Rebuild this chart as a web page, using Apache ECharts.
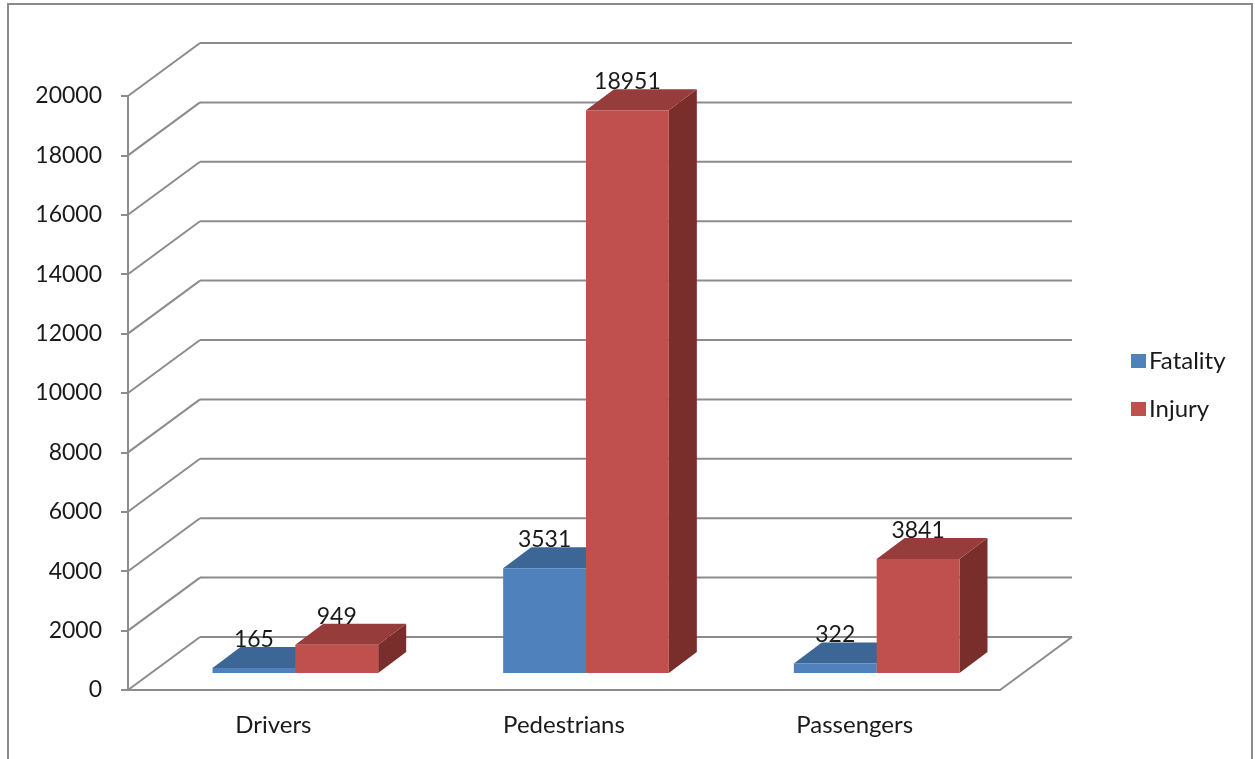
<!DOCTYPE html>
<html>
<head>
<meta charset="utf-8">
<script src="https://cdn.jsdelivr.net/npm/echarts@6/dist/echarts.min.js"></script>
<style>html,body{margin:0;padding:0;background:#fff}#c{width:1255px;height:759px}</style>
</head>
<body>
<div id="c"></div>
<script>
const categories = ['Drivers', 'Pedestrians', 'Passengers'];
const fatality = [165, 3531, 322];
const injury = [949, 18951, 3841];
const yTicks = [0, 2000, 4000, 6000, 8000, 10000, 12000, 14000, 16000, 18000, 20000];

const FONT = 'Lato';
const TXT = '#1a1a1a';
const GRID = '#8c8c8c';
// depth offsets (pixels)
const WX = 72, WY = -53;   // back wall
const PX = 22, PY = -17;   // bar front plane
const BX = 28, BY = -21;   // bar depth

const chart = echarts.init(document.getElementById('c'));

function wallRender(params, api) {
  const v = api.value(1);
  const cs = params.coordSys;
  const x0 = cs.x, x1 = cs.x + cs.width;
  const y = api.coord([0, v])[1];
  const style = { stroke: GRID, lineWidth: 2 };
  const ch = [
    { type: 'line', shape: { x1: x0, y1: y, x2: x0 + WX, y2: y + WY }, style },
    { type: 'line', shape: { x1: x0 + WX, y1: y + WY, x2: x1 + WX, y2: y + WY }, style }
  ];
  if (v === 0) {
    ch.push({ type: 'line', shape: { x1: x1, y1: y, x2: x1 + WX, y2: y + WY }, style });
  }
  return { type: 'group', children: ch };
}

function barRender(sideIdx, cFront, cTop, cSide) {
  return function (params, api) {
    const idx = api.value(0), val = api.value(1);
    const c = api.coord([idx, val]);
    const b = api.coord([idx, 0]);
    const band = api.size([1, 0])[0];
    const w = band * 0.285;
    const xl = c[0] + (sideIdx === 0 ? -w : 0) + PX;
    const xr = xl + w;
    const yt = c[1] + PY;
    const yb = b[1] + PY;
    return {
      type: 'group',
      children: [
        { type: 'polygon', shape: { points: [[xr, yt], [xr + BX, yt + BY], [xr + BX, yb + BY], [xr, yb]] }, style: { fill: cSide } },
        { type: 'polygon', shape: { points: [[xl, yt], [xr, yt], [xr + BX, yt + BY], [xl + BX, yt + BY]] }, style: { fill: cTop } },
        { type: 'rect', shape: { x: xl, y: yt, width: w, height: yb - yt }, style: { fill: cFront } },
        { type: 'text', z2: 100, style: { text: String(val), x: (xl + xr) / 2, y: yt + BY + 4, align: 'center', verticalAlign: 'bottom', fill: TXT, font: '23px ' + FONT } }
      ]
    };
  };
}

chart.setOption({
  animation: false,
  graphic: [{ type: 'rect', shape: { x: 8, y: 4, width: 1244, height: 770 }, style: { fill: 'none', stroke: '#8a8a8a', lineWidth: 2 }, z: 100 }],
  grid: { left: 128, top: 96, right: 255, bottom: 69 },
  legend: {
    data: ['Fatality', 'Injury'],
    orient: 'vertical', left: 1126, top: 344,
    itemWidth: 15, itemHeight: 14, itemGap: 24, icon: 'rect',
    textStyle: { fontFamily: FONT, fontSize: 24, color: TXT, padding: [0, 0, 0, -2] }
  },
  xAxis: {
    type: 'category', data: categories,
    axisLine: { lineStyle: { color: GRID, width: 2 } },
    axisTick: { length: 7, lineStyle: { color: GRID, width: 2 } },
    axisLabel: { fontFamily: FONT, fontSize: 24, color: TXT, margin: 23 },
    splitLine: { show: false }
  },
  yAxis: {
    type: 'value', min: 0, max: 20000, interval: 2000,
    axisLine: { show: true, lineStyle: { color: GRID, width: 2 } },
    axisTick: { show: true, length: 7, lineStyle: { color: GRID, width: 2 } },
    axisLabel: { fontFamily: FONT, fontSize: 23, color: TXT, margin: 26, formatter: v => String(v) },
    splitLine: { show: false }
  },
  series: [
    { type: 'custom', name: 'walls', renderItem: wallRender, data: yTicks.map(v => [0, v]), silent: true, z: 1 },
    { type: 'custom', name: 'Fatality', itemStyle: { color: '#4F81BD' }, renderItem: barRender(0, '#4F81BD', '#3C6696', '#2F5177'), data: fatality.map((v, i) => [i, v]), z: 2 },
    { type: 'custom', name: 'Injury', itemStyle: { color: '#C0504D' }, renderItem: barRender(1, '#C0504D', '#963C3A', '#7A2E2C'), data: injury.map((v, i) => [i, v]), z: 3 }
  ]
});
</script>
</body>
</html>
